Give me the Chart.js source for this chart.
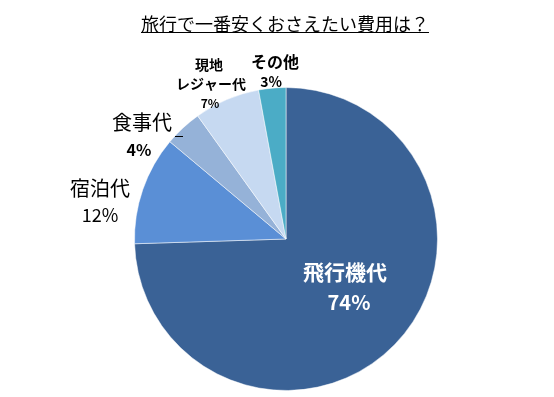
<!DOCTYPE html>
<html><head><meta charset="utf-8">
<script src="https://cdn.jsdelivr.net/npm/chart.js@4"></script>
<style>html,body{margin:0;padding:0;background:#fff}#wrap{width:554px;height:397px;position:relative}</style>
</head><body><div id="wrap"><canvas id="c" width="554" height="397"></canvas></div>
<script>
const chartTitle = '旅行で一番安くおさえたい費用は？';
const categories = ['飛行機代', '宿泊代', '食事代', '現地レジャー代', 'その他'];
const values = [74.5, 11.6, 4.0, 7.0, 2.9];
const percentLabels = ['74%', '12%', '4%', '7%', '3%'];
const nameLines = [['飛行機代'], ['宿泊代'], ['食事代'], ['現地', 'レジャー代'], ['その他']];

const colors = ['#3A6296', '#5A8FD6', '#95B2D8', '#C6D9F1', '#4BACC6'];
const JP = '"Noto Sans CJK JP", "Noto Sans", sans-serif';

// label styling: offsets relative to pie centre (px), fonts
const labelStyle = [
  { lines: [[59, 33, 'bold 21px'], ], pct: [63, 63, 'bold 20px'], color: '#ffffff' },
  { lines: [[-186, -51, '20px']], pct: [-186, -24, '18px'], color: '#000000' },
  { lines: [[-144, -117, '20px']], pct: [-147, -89, 'bold 16px'], color: '#000000', underscore: [-111, -103, 8] },
  { lines: [[-77, -174, 'bold 14px'], [-75, -155, 'bold 14px']], pct: [-76, -136, 'bold 12px'], color: '#000000' },
  { lines: [[-11, -177, 'bold 16px']], pct: [-15, -157, 'bold 14px'], color: '#000000' }
];

const labelPlugin = {
  id: 'labels',
  afterDraw(chart) {
    const ctx = chart.ctx;
    const meta = chart.getDatasetMeta(0);
    const cx = meta.data[0].x, cy = meta.data[0].y;
    ctx.save();
    ctx.textAlign = 'center';
    ctx.textBaseline = 'middle';
    // title
    ctx.fillStyle = '#000';
    ctx.font = '18px ' + JP;
    const tx = 285, ty = 24;
    ctx.fillText(chartTitle, tx, ty);
    const tw = ctx.measureText(chartTitle).width;
    ctx.strokeStyle = '#000';
    ctx.lineWidth = 1;
    ctx.beginPath();
    ctx.moveTo(tx - tw / 2, 32.5);
    ctx.lineTo(tx + tw / 2, 32.5);
    ctx.stroke();
    // slice labels
    labelStyle.forEach((s, i) => {
      ctx.fillStyle = s.color;
      nameLines[i].forEach((t, j) => {
        const l = s.lines[j];
        ctx.font = l[2] + ' ' + JP;
        ctx.fillText(t, cx + l[0], cy + l[1]);
      });
      ctx.font = s.pct[2] + ' ' + JP;
      ctx.fillText(percentLabels[i], cx + s.pct[0], cy + s.pct[1]);
      if (s.underscore) {
        ctx.strokeStyle = s.color;
        ctx.beginPath();
        ctx.moveTo(cx + s.underscore[0], cy + s.underscore[1] + 0.5);
        ctx.lineTo(cx + s.underscore[0] + s.underscore[2], cy + s.underscore[1] + 0.5);
        ctx.stroke();
      }
    });
    ctx.restore();
  }
};

new Chart(document.getElementById('c'), {
  type: 'pie',
  data: {
    labels: categories,
    datasets: [{
      data: values,
      backgroundColor: colors,
      borderColor: 'rgba(255,255,255,0.5)',
      borderWidth: 1
    }]
  },
  options: {
    responsive: false,
    animation: false,
    layout: { padding: { top: 87, bottom: 6, left: 134, right: 116 } },
    plugins: { legend: { display: false }, tooltip: { enabled: false }, title: { display: false } }
  },
  plugins: [labelPlugin]
});
</script></body></html>
